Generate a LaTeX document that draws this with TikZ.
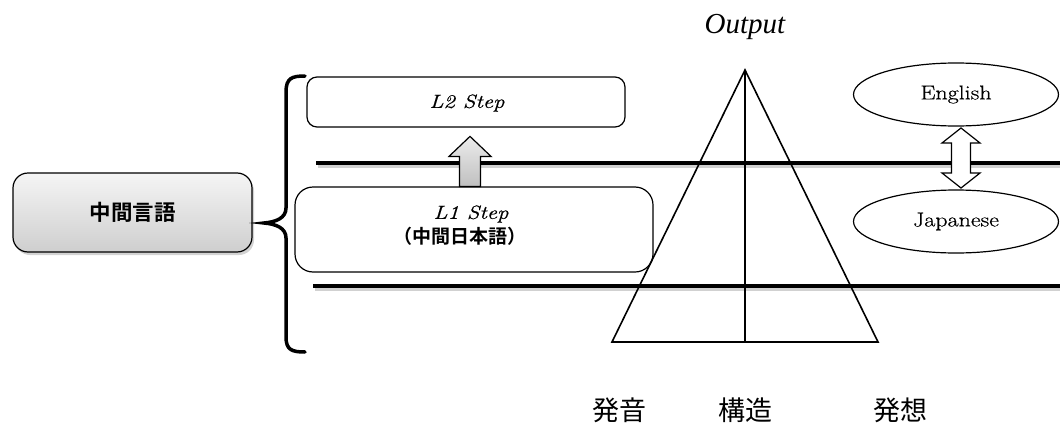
\documentclass[tikz,border=0pt]{standalone}
\usepackage{fontspec}
\setmainfont{Liberation Serif}
\newfontfamily\jpfont{Noto Sans CJK JP}
\newfontfamily\jpbold{Noto Sans CJK JP Bold}
\newfontfamily\cfont[FakeStretch=1.2,FakeBold=0.6]{Latin Modern Roman}
\usetikzlibrary{calc,shadows,shapes.geometric}
\begin{document}
\begin{tikzpicture}[x=1pt,y=-1pt,
  rbox/.style={draw=black,line width=1.2pt,rounded corners=#1},
  thickline/.style={line width=4pt},
  shadowline/.style={line width=4pt,black!18},
  ell/.style={draw,ellipse,line width=1.2pt,minimum width=205pt,minimum height=63pt,font=\cfont\fontsize{20}{24}\selectfont},
  steptxt/.style={font=\cfont\itshape\fontsize{19}{23}\selectfont},
  tri/.style={line width=1.6pt},
  lab/.style={font=\jpfont\fontsize{27}{30}\selectfont}]
\useasboundingbox (0,0) rectangle (1060,423);
% horizontal lines with soft shadow
\coordinate (l1a) at (316,162.5); \coordinate (l1b) at (1060,162.5);
\coordinate (l2a) at (313,285.5); \coordinate (l2b) at (1060,285.5);
\draw[shadowline] ($(l1a)+(2,3)$) -- ($(l1b)+(0,3)$);
\draw[shadowline] ($(l2a)+(2,3)$) -- ($(l2b)+(0,3)$);
\draw[thickline] (l1a) -- (l1b);
\draw[thickline] (l2a) -- (l2b);
% left box
\node[rbox=15pt,drop shadow={opacity=0.35,shadow xshift=2pt,shadow yshift=-3pt},top color=gray!8,bottom color=gray!38,
  minimum width=239pt,minimum height=79pt,font=\jpbold\fontsize{21.5}{25}\selectfont] (mid) at (132.5,212.5) {中間言語};
% brace
\draw[line width=3.5pt,line cap=round] (305,76) .. controls (292,76) and (286,78) .. (286,92)
  -- (286,208) .. controls (286,218) and (276,222) .. (264,223)
  .. controls (276,224) and (286,228) .. (286,238)
  -- (286,337) .. controls (286,350) and (292,352) .. (305,352);
% L2 and L1 boxes
\node[rbox=10pt,fill=white,minimum width=318pt,minimum height=50pt] (l2) at (466,102) {};
\node[steptxt] at (467,103) {L2 Step};
\node[rbox=18pt,fill=white,minimum width=358pt,minimum height=85pt] (l1) at (474,229.5) {};
\node[steptxt] (l1t) at (471,214) {L1 Step};
\node[font=\jpbold\fontsize{19}{22}\selectfont] (l1j) at (460,236) {（中間日本語）};
% up block arrow
\coordinate (ua) at ($(l1.north)+(-4,0)$);
\draw[line width=1.2pt,top color=gray!15,bottom color=gray!50]
  ($(ua)+(-10.5,0)$) -- ($(ua)+(-10.5,-30)$) -- ($(ua)+(-21,-30)$) -- ($(ua)+(0,-50)$)
  -- ($(ua)+(21,-30)$) -- ($(ua)+(10.5,-30)$) -- ($(ua)+(10.5,0)$) -- cycle;
% triangle
\coordinate (apex) at (745,70);
\coordinate (bl) at (612,342);
\coordinate (br) at (878,342);
\coordinate (bm) at (745,342);
\draw[tri,line join=miter] (apex) -- (bl) -- (br) -- cycle;
\draw[line width=1.2pt] (apex) -- (bm);
\node[font=\itshape\fontsize{29}{32}\selectfont] (out) at (745,27) {Output};
% ellipses
\node[ell] (en) at (956,94.5) {English};
\node[ell] (ja) at (956,221.5) {Japanese};
% double arrow
\coordinate (da) at (961,128); \coordinate (db) at (961,188);
\draw[line width=1.2pt,fill=white,line join=miter]
  (da) -- ($(da)+(19,15)$) -- ($(da)+(9.5,15)$) -- ($(db)+(9.5,-15)$) -- ($(db)+(19,-15)$)
  -- (db) -- ($(db)+(-19,-15)$) -- ($(db)+(-9.5,-15)$) -- ($(da)+(-9.5,15)$) -- ($(da)+(-19,15)$) -- cycle;
% bottom labels
\node[lab] (p) at (619,410) {発音};
\node[lab] (s) at (745,410) {構造};
\node[lab] (h) at (900,410) {発想};
\end{tikzpicture}
\end{document}
